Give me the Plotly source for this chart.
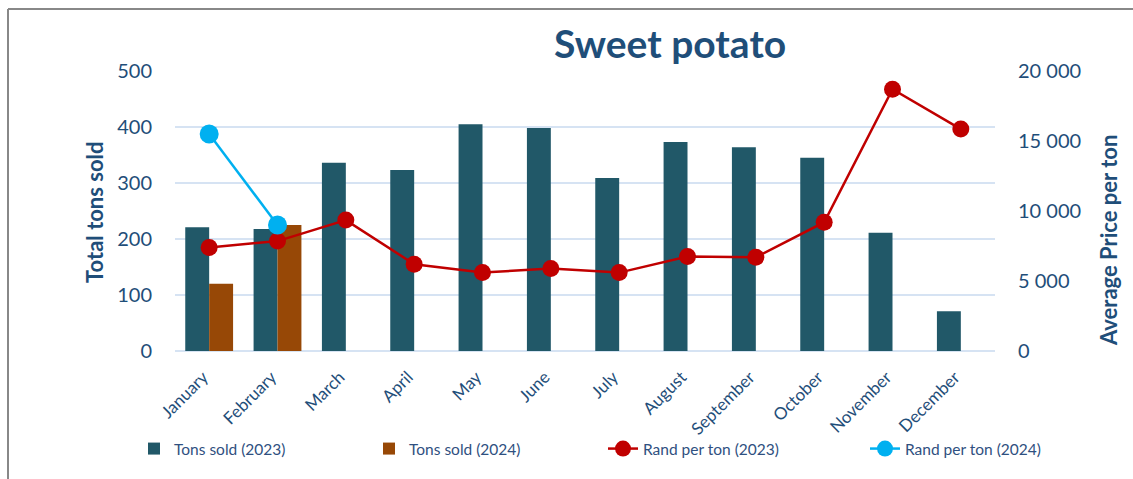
import plotly.graph_objects as go

months = ["January", "February", "March", "April", "May", "June", "July",
          "August", "September", "October", "November", "December"]
tons_2023 = [221, 218, 336, 323, 405, 398, 309, 373, 364, 345, 211, 71]
tons_2024 = [120, 225, None, None, None, None, None, None, None, None, None, None]
rand_2023 = [7400, 7850, 9350, 6200, 5600, 5900, 5600, 6750, 6700, 9200, 18700, 15850]
rand_2024 = [15500, 9000, None, None, None, None, None, None, None, None, None, None]

axis_color = "#1F4E79"
legend_color = "#2F5080"
font_family = "Lato"

W, H = 1133, 479
L, R, T, B = 175, 138, 71, 128
pw, ph = W - L - R, H - T - B

def px_x(x):
    return (x - L) / pw

def px_y(y):
    return (H - B - y) / ph

fig = go.Figure()
fig.add_trace(go.Bar(x=months, y=tons_2023, name="Tons sold (2023)", legend="legend",
                     marker=dict(color="#215868", line=dict(width=0))))
fig.add_trace(go.Bar(x=months, y=tons_2024, name="Tons sold (2024)", legend="legend2",
                     marker=dict(color="#974806", line=dict(width=0))))
fig.add_trace(go.Scatter(x=months, y=rand_2023, name="Rand per ton (2023)", yaxis="y2",
                         legend="legend3",
                         mode="lines+markers", line=dict(color="#C00000", width=2.5),
                         marker=dict(size=17, color="#C00000")))
fig.add_trace(go.Scatter(x=months, y=rand_2024, name="Rand per ton (2024)", yaxis="y2",
                         legend="legend4",
                         mode="lines+markers", line=dict(color="#00B0F0", width=2.5),
                         marker=dict(size=19, color="#00B0F0")))

def leg(text_start):
    return dict(orientation="h", x=px_x(text_start - 42), xanchor="left",
                y=px_y(449), yanchor="middle", bgcolor="rgba(0,0,0,0)",
                font=dict(size=15.5, color=legend_color, family=font_family))

fig.update_layout(
    width=W, height=H,
    margin=dict(l=L, r=R, t=T, b=B, autoexpand=False),
    paper_bgcolor="white", plot_bgcolor="white",
    font=dict(family=font_family, color=axis_color),
    separators=". ",
    barmode="group", bargap=0.3, bargroupgap=0,
    showlegend=True,
    legend=leg(176), legend2=leg(411), legend3=leg(645), legend4=leg(907),
    xaxis=dict(range=[-0.5, 11.5], tickangle=-45,
               tickfont=dict(size=17, color=axis_color, family=font_family),
               ticklabelshift=-6, ticklabelstandoff=12,
               showgrid=False, showline=False, ticks=""),
    yaxis=dict(range=[0, 500], dtick=100, tickfont=dict(size=20, color=axis_color),
               showgrid=True, gridcolor="#D6E3F3", gridwidth=1.5,
               zeroline=True, zerolinecolor="#D6E3F3", zerolinewidth=1.5,
               ticklabelstandoff=22, showline=False),
    yaxis2=dict(range=[0, 20000], dtick=5000, overlaying="y", side="right",
                tickformat=",d", tickfont=dict(size=20, color=axis_color),
                showgrid=False, zeroline=False, ticklabelstandoff=22, showline=False),
    annotations=[
        dict(text="<b>Sweet potato</b>", xref="paper", yref="paper",
             x=px_x(670), y=px_y(43), xanchor="center", yanchor="middle",
             showarrow=False, font=dict(size=39, color=axis_color, family=font_family)),
        dict(text="<b>Total tons sold</b>", xref="paper", yref="paper",
             x=px_x(94), y=px_y(212), xanchor="center", yanchor="middle", textangle=-90,
             showarrow=False, font=dict(size=22, color=axis_color, family=font_family)),
        dict(text="<b>Average Price per ton</b>", xref="paper", yref="paper",
             x=px_x(1108), y=px_y(241), xanchor="center", yanchor="middle", textangle=-90,
             showarrow=False, font=dict(size=22, color=axis_color, family=font_family)),
    ],
    shapes=[
        dict(type="line", xref="paper", yref="paper", x0=px_x(8), x1=px_x(1140),
             y0=px_y(9), y1=px_y(9), line=dict(color="#888888", width=2)),
        dict(type="line", xref="paper", yref="paper", x0=px_x(8), x1=px_x(8),
             y0=px_y(9), y1=px_y(485), line=dict(color="#888888", width=2)),
    ],
)

fig.write_html("out.html", config={"displayModeBar": False},
               post_script="document.body.style.margin='0px';")
